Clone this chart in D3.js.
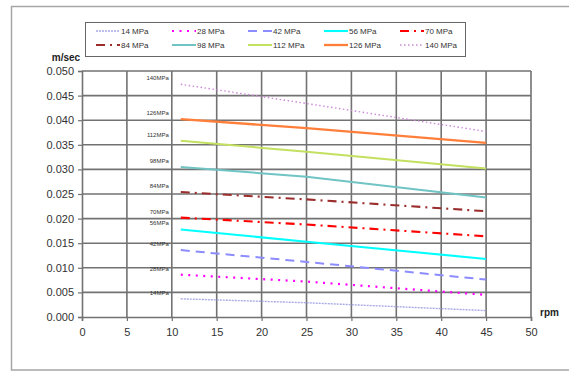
<!DOCTYPE html>
<html>
<head>
<meta charset="utf-8">
<script src="https://cdn.jsdelivr.net/npm/d3@7"></script>
<style>
  html, body { margin: 0; padding: 0; background: #fff; }
  svg { display: block; font-family: "Liberation Sans", Arial, sans-serif; }
</style>
</head>
<body>
<svg id="chart" width="569" height="372"></svg>
<script>
// Measurement speeds (rpm) at which each pressure curve is sampled
const rpm = [11, 25, 45];

// Velocity (m/sec) for each pressure level
const p14  = [0.0037, 0.0029, 0.0013];
const p28  = [0.0086, 0.0072, 0.0045];
const p42  = [0.0136, 0.0112, 0.0076];
const p56  = [0.0178, 0.0153, 0.0118];
const p70  = [0.0202, 0.0188, 0.0164];
const p84  = [0.0254, 0.0239, 0.0215];
const p98  = [0.0305, 0.0285, 0.0243];
const p112 = [0.0358, 0.0336, 0.0302];
const p126 = [0.0402, 0.0384, 0.0354];
const p140 = [0.0473, 0.0434, 0.0377];

const legendNames = ["14 MPa", "28 MPa", "42 MPa", "56 MPa", "70 MPa",
                     "84 MPa", "98 MPa", "112 MPa", "126 MPa", "140 MPa"];
const sideLabels  = ["14MPa", "28MPa", "42MPa", "56MPa", "70MPa",
                     "84MPa", "98MPa", "112MPa", "126MPa", "140MPa"];
const xTicks = [0, 5, 10, 15, 20, 25, 30, 35, 40, 45, 50];
const yTicks = [0, 0.005, 0.01, 0.015, 0.02, 0.025, 0.03, 0.035, 0.04, 0.045, 0.05];

const seriesValues = [p14, p28, p42, p56, p70, p84, p98, p112, p126, p140];

// Line styling per series
const styles = [
  { color: "#a9a9e6", width: 1.4, dash: "2,1" },
  { color: "#ff00ff", width: 2.2, dash: "2,5.5" },
  { color: "#8c8cff", width: 2,   dash: "9,6" },
  { color: "#00ffff", width: 2.1, dash: null },
  { color: "#ff0000", width: 2.1, dash: "9,5,2,5" },
  { color: "#9b2d2d", width: 2.1, dash: "9,5,2,5" },
  { color: "#70c4c4", width: 2,   dash: null },
  { color: "#c4e060", width: 2,   dash: null },
  { color: "#ff7f3a", width: 2.3, dash: null },
  { color: "#cc88d8", width: 1.4, dash: "1.5,2.5" }
];

const svg = d3.select("#chart");

// Outer frame
svg.append("rect")
  .attr("x", 11.5).attr("y", 6.5).attr("width", 570).attr("height", 363.5)
  .attr("fill", "none").attr("stroke", "#a6a6a6").attr("stroke-width", 1.5);

const x = d3.scaleLinear().domain([0, 50]).range([82, 531]);
const y = d3.scaleLinear().domain([0, 0.05]).range([317, 71]);

// Grid
const grid = svg.append("g");
grid.selectAll("line.v").data(xTicks.slice(1)).join("line")
  .attr("x1", d => x(d)).attr("x2", d => x(d))
  .attr("y1", y(0.05)).attr("y2", y(0))
  .attr("stroke", "#727272").attr("stroke-width", 1.6);
grid.selectAll("line.h").data(yTicks.slice(1)).join("line")
  .attr("x1", x(0)).attr("x2", x(50))
  .attr("y1", d => y(d)).attr("y2", d => y(d))
  .attr("stroke", "#727272").attr("stroke-width", 1.6);

// Axes
const yAxis = svg.append("g").attr("transform", `translate(${x(0)},0)`)
  .call(d3.axisLeft(y).tickValues(yTicks).tickFormat(d3.format(".3f")).tickSize(4).tickPadding(4));
const xAxis = svg.append("g").attr("transform", `translate(0,${y(0)})`)
  .call(d3.axisBottom(x).tickValues(xTicks).tickFormat(d3.format("d")).tickSize(4).tickPadding(7));
[xAxis, yAxis].forEach(a => {
  a.select(".domain").attr("stroke", "#727272").attr("stroke-width", 1.6);
  a.selectAll(".tick line").attr("stroke", "#727272").attr("stroke-width", 1.2);
  a.selectAll("text").attr("fill", "#333").attr("font-size", 11)
    .attr("font-family", "'Liberation Sans', Arial, sans-serif");
});

// Axis titles
svg.append("text").attr("x", 66).attr("y", 61).attr("text-anchor", "middle")
  .attr("font-size", 10).attr("font-weight", "bold").attr("fill", "#222").text("m/sec");
svg.append("text").attr("x", 540).attr("y", 316)
  .attr("font-size", 10).attr("font-weight", "bold").attr("fill", "#222").text("rpm");

// Series lines
const line = d3.line().x((d, i) => x(rpm[i])).y(d => y(d));
svg.append("g").selectAll("path").data(seriesValues).join("path")
  .attr("d", d => line(d))
  .attr("fill", "none")
  .attr("stroke", (d, i) => styles[i].color)
  .attr("stroke-width", (d, i) => styles[i].width)
  .attr("stroke-dasharray", (d, i) => styles[i].dash);

// Pressure labels beside the start of each curve
svg.append("g").selectAll("text").data(seriesValues).join("text")
  .attr("x", x(10) - 3)
  .attr("y", d => y(d[0]) - 4)
  .attr("text-anchor", "end")
  .attr("font-size", 6)
  .attr("fill", "#333")
  .text((d, i) => sideLabels[i]);

// Legend
const legend = svg.append("g");
legend.append("rect").attr("x", 85.5).attr("y", 22.5).attr("width", 380).attr("height", 34)
  .attr("fill", "#fff").attr("stroke", "#666").attr("stroke-width", 1);
const items = legend.selectAll("g.item").data(legendNames).join("g")
  .attr("transform", (d, i) => `translate(${96 + (i % 5) * 76},${i < 5 ? 31 : 45})`);
items.append("line")
  .attr("x1", 0).attr("x2", 24).attr("y1", 0).attr("y2", 0)
  .attr("stroke", (d, i) => styles[i].color)
  .attr("stroke-width", (d, i) => styles[i].width)
  .attr("stroke-dasharray", (d, i) => styles[i].dash);
items.append("text").attr("x", 25).attr("y", 3)
  .attr("font-size", 8).attr("fill", "#333").text(d => d);
</script>
</body>
</html>
